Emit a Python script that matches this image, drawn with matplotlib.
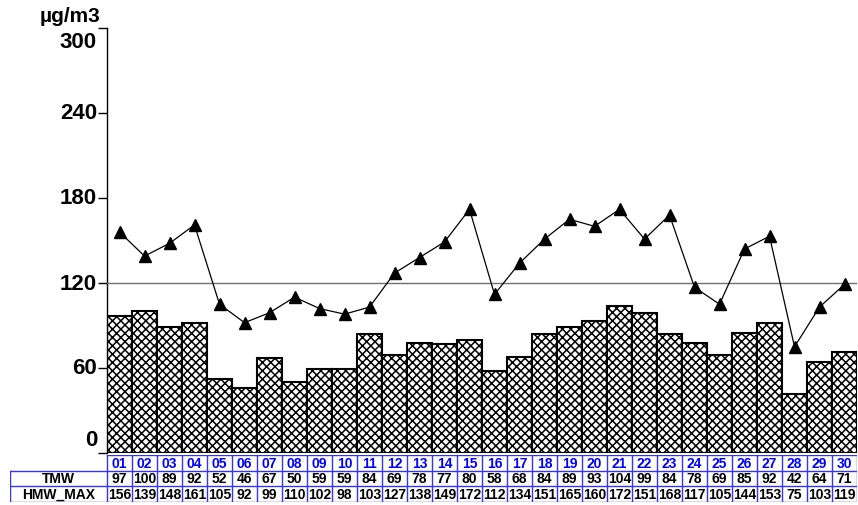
import matplotlib.pyplot as plt
from matplotlib.lines import Line2D
from matplotlib.transforms import offset_copy

plt.rcParams['font.family'] = ['Liberation Sans', 'DejaVu Sans']
plt.rcParams['font.weight'] = 'bold'
plt.rcParams['hatch.linewidth'] = 1.1

days = ['01', '02', '03', '04', '05', '06', '07', '08', '09', '10',
        '11', '12', '13', '14', '15', '16', '17', '18', '19', '20',
        '21', '22', '23', '24', '25', '26', '27', '28', '29', '30']
tmw = [97, 100, 89, 92, 52, 46, 67, 50, 59, 59, 84, 69, 78, 77, 80,
       58, 68, 84, 89, 93, 104, 99, 84, 78, 69, 85, 92, 42, 64, 71]
hmw_max = [156, 139, 148, 161, 105, 92, 99, 110, 102, 98, 103, 127, 138, 149, 172,
           112, 134, 151, 165, 160, 172, 151, 168, 117, 105, 144, 153, 75, 103, 119]
yticks = [0, 60, 120, 180, 240, 300]
limit = 120

W, H = 858, 506
fig = plt.figure(figsize=(W / 100, H / 100), dpi=100)

# main plot area in pixels
left, right, top, bottom = 107, 857, 29, 454
ax = fig.add_axes([left / W, 1 - bottom / H, (right - left) / W, (bottom - top) / H])

x = list(range(len(days)))
ax.bar(x, tmw, width=1.0, color='white', edgecolor='black', linewidth=1.5, hatch='xxxx')
ax.axhline(limit, color='#707070', linewidth=1.0, zorder=3)
ax.plot(x, hmw_max, color='black', linewidth=0.9, marker='^', markersize=8, zorder=4)

ax.set_xlim(-0.5, len(days) - 0.5)
ax.set_ylim(0, 300)
ax.set_xticks([])
ax.set_yticks(yticks)
ax.set_yticklabels([])
ax.tick_params(axis='y', length=6.5, width=1)
for s in ['top', 'right', 'bottom']:
    ax.spines[s].set_visible(False)
ax.spines['left'].set_linewidth(1)

# y tick labels: first sits above its tick, last sits below it
ytr = ax.get_yaxis_transform()
for v in yticks:
    dy = 0
    if v == yticks[0]:
        dy = 13
    elif v == yticks[-1]:
        dy = -14
    tr = offset_copy(ytr, fig=fig, x=-10, y=dy, units='dots')
    ax.text(0, v, str(v), transform=tr, ha='right', va='center', fontsize=16, fontweight='bold')

fig.text(100 / W, 1 - 17 / H, 'µg/m3', ha='right', va='center', fontsize=15, fontweight='bold')

# table under the plot
tleft, ttop, tbottom = 10, 456, 503
tab = fig.add_axes([tleft / W, 1 - tbottom / H, (right - tleft) / W, (tbottom - ttop) / H])
unit = (right - left) / len(days)
x0 = -0.5 - (left - tleft) / unit
tab.set_xlim(x0, len(days) - 0.5)
tab.set_ylim(0, 3)
tab.axis('off')

blue = '#3333ff'
lw = 1.0
# horizontal grid lines
tab.add_line(Line2D([-0.5, len(days) - 0.5], [3, 3], color=blue, lw=lw))
for yy in [0, 1, 2]:
    tab.add_line(Line2D([x0, len(days) - 0.5], [yy, yy], color=blue, lw=lw))
# vertical grid lines
tab.add_line(Line2D([x0, x0], [0, 2], color=blue, lw=lw))
for i in range(len(days) + 1):
    tab.add_line(Line2D([i - 0.5, i - 0.5], [0, 3], color=blue, lw=lw))

fs = 10
for i, d in enumerate(days):
    tab.text(i, 2.5, d, ha='center', va='center', color='blue', fontsize=fs, fontweight='bold')
    tab.text(i, 1.5, str(tmw[i]), ha='center', va='center', color='black', fontsize=fs, fontweight='bold')
    tab.text(i, 0.5, str(hmw_max[i]), ha='center', va='center', color='black', fontsize=fs, fontweight='bold')
xm = (x0 - 0.5) / 2
tab.text(xm, 1.5, 'TMW', ha='center', va='center', fontsize=fs, fontweight='bold')
tab.text(xm, 0.5, 'HMW_MAX', ha='center', va='center', fontsize=fs, fontweight='bold')

fig.savefig('out.png', dpi=100)
